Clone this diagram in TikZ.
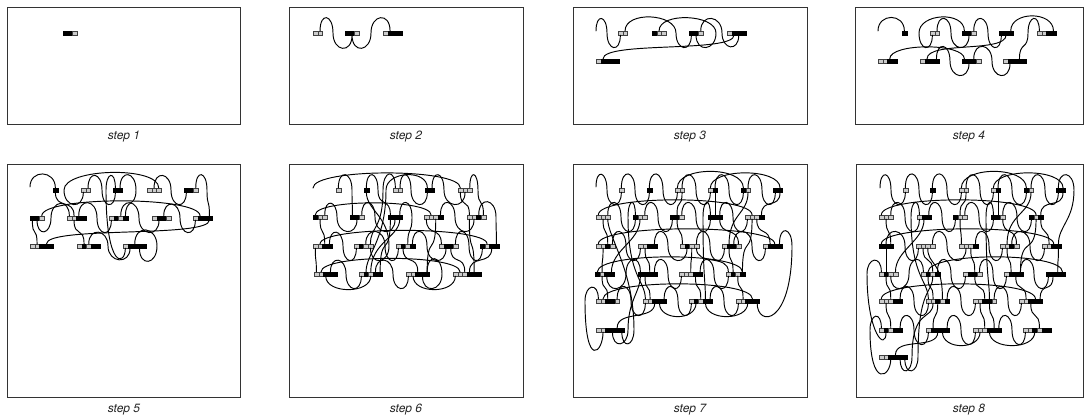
\documentclass[tikz,border=0pt]{standalone}
\usepackage{fontspec}
\setmainfont{TeX Gyre Heros}
\usetikzlibrary{positioning}
\newcommand\bits[4]{\foreach \b [count=\i] in {#4} {\node[cell\b] (#1-\i) at ({#2+4.7*\i-2.35},#3) {};}}
\newcommand\bz[3]{.. controls +(0,#1) and +(0,#2) .. (#3)}
\newcommand\hop[2]{\bz{#1}{#1}{#2}}
\begin{document}
\begin{tikzpicture}[x=1pt, y=-1pt,
    cell0/.style={draw=black!75, fill=black!20, line width=0.3pt, minimum width=4.7pt, minimum height=4.3pt, inner sep=0pt, outer sep=0pt},
    cell1/.style={cell0, fill=black, draw=black},
    wire/.style={line width=0.95pt, line cap=round},
    frame/.style={draw=black!80, line width=0.8pt},
    lab/.style={font=\fontsize{12}{14}\selectfont\itshape, text=black!85}
]
\useasboundingbox (0,0) rectangle (1085,417);
\draw[frame] (7,7) rectangle (240,124);
\draw[frame] (289,7) rectangle (523,124);
\draw[frame] (573,7) rectangle (807,124);
\draw[frame] (855,7) rectangle (1083,124);
\draw[frame] (7,164) rectangle (240,397);
\draw[frame] (289,164) rectangle (523,397);
\draw[frame] (573,164) rectangle (807,397);
\draw[frame] (856,164) rectangle (1083,397);
\node[lab] (l1) at (124,137) {step 1};
\node[lab] (l2) at (406,137) {step 2};
\node[lab] (l3) at (690,137) {step 3};
\node[lab] (l4) at (969,137) {step 4};
\node[lab] (l5) at (124,410) {step 5};
\node[lab] (l6) at (406,410) {step 6};
\node[lab] (l7) at (690,410) {step 7};
\node[lab] (l8) at (969,410) {step 8};

\bits{s1a}{63}{33}{1,1,0}

\bits{s2a}{313}{33}{0,0}
\bits{s2b}{345}{33}{1,1,0}
\bits{s2c}{383}{33}{0,1,1,1}
\draw[wire] (s2a-2.north) \hop{-19}{333,33} \hop{19}{s2b-2.south} \hop{19}{371,33} \hop{-19}{s2c-2.north};

\bits{s3a}{618}{33}{0,0}
\bits{s3b}{652}{33}{1,0,0}
\bits{s3c}{689}{33}{1,1,0}
\bits{s3d}{727}{33}{0,1,1,1}
\bits{s3e}{596}{61}{0,1,1,1,1}
\coordinate (f3) at (596,31);
\draw[wire] (f3) \hop{-18}{607,33} \hop{18}{s3a-1.south};
\draw[wire] (s3a-2.north) \hop{-20}{676,33} \hop{18}{s3c-1.south};
\draw[wire] (s3b-2.north) \hop{-19}{716,33} \hop{18}{s3c-2.south};
\draw[wire] (s3c-3.north) \hop{-18}{722,33} \hop{17}{s3d-3.south};
\draw[wire] (s3e-2.north) \bz{-18}{18}{s3d-2.south};

\bits{s4a}{902}{33}{1}
\bits{s4b}{930}{33}{0,0}
\bits{s4c}{962}{33}{1,1,0}
\bits{s4d}{999}{33}{1,1,1}
\bits{s4e}{1037}{33}{0,0,1,1}
\bits{s4f}{878}{61}{0,0,1,1}
\bits{s4g}{920}{61}{0,1,1,1}
\bits{s4h}{962}{61}{1,1,1,0}
\bits{s4i}{1003}{61}{0,1,1,1,1}
\coordinate (f4) at (878,31);
\draw[wire] (f4) \hop{-18}{s4a-1.north};
\draw[wire] (s4c-1.north) \hop{-20}{919,33} \hop{18}{s4b-1.south};
\draw[wire] (s4b-2.north) \hop{-18}{951,33} \hop{18}{s4c-2.south};
\draw[wire] (s4c-3.north) \hop{-18}{988,33} \hop{18}{s4d-1.south};
\draw[wire] (s4d-3.north) \hop{-20}{s4e-4.north};
\draw[wire] (s4e-1.north) \hop{-18}{1028,33} \bz{18}{-18}{s4i-4.north};
\draw[wire] (s4g-2.north) \bz{-18}{18}{s4d-2.south};
\draw[wire] (s4f-3.north) \hop{-16}{s4h-1.north};
\draw[wire] (s4g-4.north) \hop{-18}{950,61} \hop{18}{s4h-2.south};
\draw[wire] (s4h-3.north) \hop{-18}{992,61} \hop{18}{s4i-2.south};

\bits{s5a}{53}{190}{1}
\bits{s5b}{81}{190}{0,0}
\bits{s5c}{113}{190}{1,1}
\bits{s5d}{147}{190}{0,0,0}
\bits{s5e}{184}{190}{1,1,0}
\bits{s5f}{30}{218}{1,1,0}
\bits{s5g}{67}{218}{0,0,1,1}
\bits{s5h}{109}{218}{0,1,0,1}
\bits{s5i}{152}{218}{0,1,1,0}
\bits{s5j}{193}{218}{0,1,1,1}
\bits{s5k}{30}{246}{0,0,1,1,1}
\bits{s5l}{77}{246}{0,1,0,1,1}
\bits{s5m}{123}{246}{0,1,1,1,1}
\coordinate (f5) at (30,187);
\draw[wire] (f5) \hop{-18}{s5a-1.north};
\draw[wire] (s5a-1.south) \bz{18}{-18}{s5g-2.north};
\draw[wire] (s5d-3.north) \hop{-22}{64,190} \hop{18}{s5b-1.south};
\draw[wire] (s5b-2.north) \hop{-18}{102,190} \hop{18}{s5c-1.south};
\draw[wire] (s5c-2.north) \hop{-19}{136,190} \bz{18}{-18}{s5h-4.north};
\draw[wire] (s5d-2.north) \hop{-18}{171,190} \hop{18}{s5e-1.south};
\draw[wire] (s5e-3.north) \hop{-19}{207,190} \bz{18}{-18}{s5j-4.north};
\draw[wire] (s5f-3.north) \hop{-20}{s5j-2.north};
\draw[wire] (s5f-2.south) \hop{17}{51,218} \hop{-18}{s5g-1.north};
\draw[wire] (s5g-3.north) \hop{-19}{97,218} \hop{18}{s5h-1.south};
\draw[wire] (s5h-3.north) \hop{-19}{139,218} \hop{18}{s5i-2.south};
\draw[wire] (s5i-3.north) \hop{-17}{180,218} \hop{18}{s5j-1.south};
\draw[wire] (s5f-1.south) \bz{18}{-18}{s5k-2.north};
\draw[wire] (s5g-2.south) \bz{18}{-18}{s5l-2.north};
\draw[wire] (s5k-4.north) \bz{-18}{18}{s5j-4.south};
\draw[wire] (s5l-3.north) \hop{-17}{108,246} \hop{17}{s5m-2.south};
\draw[wire] (s5m-3.north) \hop{-20}{157,246} \hop{19}{s5m-4.south};
\draw[wire] (s5c-1.north) \hop{-18}{106,190} \bz{80}{18}{s5m-1.south};

\bits{s6a}{336}{190}{0}
\bits{s6b}{364}{190}{1}
\bits{s6c}{393}{190}{0,0}
\bits{s6d}{425}{190}{1,1}
\bits{s6e}{458}{190}{0,0,0}
\bits{s6f}{313}{217}{1,0,0}
\bits{s6g}{350}{217}{1,1,0}
\bits{s6h}{388}{217}{1,1,1}
\bits{s6i}{424}{217}{0,0,0,1}
\bits{s6j}{467}{217}{0,0,1,0}
\bits{s6k}{313}{246}{0,0,1,1}
\bits{s6l}{354}{246}{0,1,0,0}
\bits{s6m}{396}{246}{0,1,0,1}
\bits{s6n}{439}{246}{0,1,1,0}
\bits{s6o}{480}{246}{1,0,1,1}
\bits{s6p}{314}{274}{0,0,1,1,1}
\bits{s6q}{359}{274}{0,1,0,1,1}
\bits{s6r}{406}{274}{0,0,1,1,1}
\bits{s6s}{453}{274}{0,0,0,1,1,1}
\coordinate (f6) at (313,188);
\draw[wire] (f6) \hop{-20}{s6e-1.north};
\draw[wire] (s6a-1.north) \hop{-19}{352,190} \bz{18}{-18}{s6g-1.north};
\draw[wire] (s6b-1.north) \hop{-19}{378,190} \bz{18}{-18}{s6h-1.north};
\draw[wire] (s6c-1.north) \hop{-20}{383,190} \bz{40}{-18}{s6l-4.north};
\draw[wire] (s6c-2.north) \hop{-19}{411,190} \hop{18}{s6d-1.south};
\draw[wire] (s6d-2.north) \hop{-19}{444,190} \hop{18}{s6e-2.south};
\draw[wire] (s6e-3.north) \hop{-19}{478,190} \bz{18}{-18}{s6j-4.north};
\draw[wire] (s6d-1.north) \hop{-19}{386,190} \bz{50}{-18}{s6q-2.north};
\draw[wire] (s6e-1.south) \bz{18}{-18}{s6j-1.north};
\draw[wire] (s6f-1.north) \hop{-16}{s6i-2.north};
\draw[wire] (s6f-3.north) \hop{-17}{337,217} \hop{18}{s6g-2.south};
\draw[wire] (s6g-3.north) \hop{-18}{375,217} \hop{18}{s6h-2.south};
\draw[wire] (s6h-3.north) \hop{-18}{412,217} \bz{18}{-18}{s6m-3.north};
\draw[wire] (s6i-4.north) \hop{-18}{455,217} \hop{18}{s6j-2.south};
\draw[wire] (s6j-3.north) \hop{-19}{496,217} \bz{18}{-18}{s6o-4.north};
\draw[wire] (s6f-2.south) \bz{18}{-18}{s6k-3.north};
\draw[wire] (s6i-1.south) \bz{18}{-18}{s6n-1.north};
\draw[wire] (s6h-1.south) \bz{40}{-40}{s6q-5.north};
\draw[wire] (s6i-3.south) \bz{40}{-40}{s6r-5.north};
\draw[wire] (s6j-1.south) \bz{40}{-40}{s6s-5.north};
\draw[wire] (s6k-2.north) \hop{-18}{s6o-2.north};
\draw[wire] (s6k-4.north) \hop{-17}{343,246} \hop{18}{s6l-1.south};
\draw[wire] (s6l-3.north) \hop{-18}{385,246} \hop{18}{s6m-1.south};
\draw[wire] (s6m-4.north) \hop{-18}{427,246} \hop{18}{s6n-2.south};
\draw[wire] (s6n-4.north) \hop{-18}{469,246} \hop{18}{s6o-1.south};
\draw[wire] (s6l-4.south) \hop{18}{389,246} \bz{-30}{18}{s6b-1.south};
\draw[wire] (s6k-1.south) \bz{18}{-18}{s6p-1.north};
\draw[wire] (s6m-2.south) \bz{18}{-18}{s6r-3.north};
\draw[wire] (s6n-3.south) \bz{18}{-18}{s6s-3.north};
\draw[wire] (s6p-2.north) \hop{-18}{s6s-2.north};
\draw[wire] (s6p-4.north) \hop{-17}{346,274} \hop{18}{s6q-1.south};
\draw[wire] (s6q-4.north) \hop{-17}{393,274} \hop{18}{s6r-1.south};
\draw[wire] (s6r-5.north) \hop{-19}{442,274} \hop{18}{s6r-4.south};
\draw[wire] (s6q-3.north) \bz{-30}{18}{s6h-3.south};
\draw[wire] (s6s-4.north) \bz{-18}{18}{s6o-3.south};
\draw[wire] (s6p-3.south) \hop{18}{s6q-3.south};
\draw[wire] (s6r-2.south) \hop{18}{s6s-1.south};

\bits{s7a}{619}{190}{0}
\bits{s7b}{647}{190}{1}
\bits{s7c}{675}{190}{0,0}
\bits{s7d}{708}{190}{0,1}
\bits{s7e}{741}{190}{1,0}
\bits{s7f}{773}{190}{1,1}
\bits{s7g}{596}{217}{0,0,0}
\bits{s7h}{633}{217}{1,0,0}
\bits{s7i}{670}{217}{1,1,0}
\bits{s7j}{708}{217}{1,1,1}
\bits{s7k}{745}{217}{0,0,0,1}
\bits{s7l}{596}{246}{0,0,1,0}
\bits{s7m}{638}{246}{0,0,1,1}
\bits{s7n}{680}{246}{0,1,0,0}
\bits{s7o}{722}{246}{0,1,1,0}
\bits{s7p}{763}{246}{0,1,1,1}
\bits{s7q}{595}{274}{1,0,1,1}
\bits{s7r}{638}{274}{1,1,1,1}
\bits{s7s}{679}{274}{0,0,0,1,1}
\bits{s7t}{726}{274}{0,1,0,1}
\bits{s7u}{596}{301}{0,0,1,1,0}
\bits{s7v}{643}{301}{0,0,1,1,1}
\bits{s7w}{689}{301}{0,1,0,1,1}
\bits{s7x}{736}{301}{0,0,1,1,1}
\bits{s7y}{596}{330}{0,0,1,1,1,1}
\coordinate (f7) at (596,187);
\draw[wire] (f7) \hop{-19}{607,190} \hop{18}{s7a-1.south};
\draw[wire] (s7a-1.north) \hop{-20}{635,190} \hop{18}{s7b-1.south};
\draw[wire] (s7b-1.north) \hop{-20}{663,190} \hop{18}{s7c-1.south};
\draw[wire] (s7c-2.north) \hop{-19}{696,190} \hop{18}{s7d-1.south};
\draw[wire] (s7d-2.north) \hop{-19}{729,190} \hop{18}{s7e-1.south};
\draw[wire] (s7e-2.north) \hop{-19}{762,190} \hop{18}{s7f-1.south};
\draw[wire] (s7c-1.north) \hop{-22}{s7e-1.north};
\draw[wire] (s7d-1.north) \hop{-20}{s7f-2.north};
\draw[wire] (s7f-2.south) \bz{18}{-18}{s7k-4.north};
\draw[wire] (s7c-2.south) \bz{18}{-18}{s7i-2.north};
\draw[wire] (s7d-2.south) \bz{18}{-18}{s7j-2.north};
\draw[wire] (s7e-2.south) \bz{22}{-30}{s7o-2.north};
\draw[wire] (s7g-3.north) \hop{-18}{621,217} \hop{18}{s7h-1.south};
\draw[wire] (s7h-3.north) \hop{-18}{658,217} \hop{18}{s7i-1.south};
\draw[wire] (s7i-3.north) \hop{-18}{696,217} \hop{18}{s7j-1.south};
\draw[wire] (s7j-3.north) \hop{-18}{733,217} \hop{18}{s7k-1.south};
\draw[wire] (s7g-1.north) \hop{-20}{s7k-2.north};
\draw[wire] (s7h-1.north) \hop{-18}{628,217} \bz{60}{-18}{s7v-1.north};
\draw[wire] (s7j-1.north) \hop{-18}{703,217} \bz{60}{-18}{s7w-4.north};
\draw[wire] (s7k-2.south) \bz{40}{-40}{s7t-4.north};
\draw[wire] (s7g-2.south) \bz{18}{-18}{s7l-3.north};
\draw[wire] (s7h-2.south) \bz{22}{-22}{s7q-4.north};
\draw[wire] (s7i-2.south) \bz{18}{-18}{s7n-1.north};
\draw[wire] (s7j-3.south) \bz{18}{-18}{s7o-4.north};
\draw[wire] (s7k-3.south) \bz{18}{-18}{s7p-2.north};
\draw[wire] (s7l-4.north) \hop{-18}{626,246} \hop{18}{s7m-1.south};
\draw[wire] (s7m-4.north) \hop{-18}{668,246} \hop{18}{s7n-2.south};
\draw[wire] (s7n-4.north) \hop{-18}{710,246} \hop{18}{s7o-1.south};
\draw[wire] (s7o-3.north) \hop{-18}{752,246} \hop{18}{s7p-1.south};
\draw[wire] (s7l-1.north) \hop{-20}{s7p-3.north};
\draw[wire] (s7p-4.north) \hop{-19}{792,246} \bz{80}{24}{s7x-5.south};
\draw[wire] (s7l-2.south) \bz{18}{-18}{s7q-2.north};
\draw[wire] (s7m-2.south) \bz{18}{-18}{s7r-3.north};
\draw[wire] (s7n-3.south) \bz{18}{-18}{s7s-3.north};
\draw[wire] (s7n-4.south) \bz{18}{-18}{s7t-1.north};
\draw[wire] (s7o-2.south) \bz{18}{-18}{s7t-2.north};
\draw[wire] (s7r-1.north) \hop{-18}{626,274} \hop{18}{s7q-3.south};
\draw[wire] (s7r-4.north) \hop{-18}{668,274} \hop{18}{s7s-1.south};
\draw[wire] (s7s-5.north) \hop{-18}{714,274} \hop{18}{s7t-1.south};
\draw[wire] (s7q-1.north) \hop{-20}{s7t-4.north};
\draw[wire] (s7q-2.south) \bz{18}{-18}{s7u-3.north};
\draw[wire] (s7r-2.south) \bz{18}{-18}{s7v-2.north};
\draw[wire] (s7s-4.south) \bz{18}{-18}{s7w-3.north};
\draw[wire] (s7t-3.south) \bz{18}{-18}{s7x-2.north};
\draw[wire] (s7u-5.north) \hop{-18}{631,301} \hop{18}{s7v-1.south};
\draw[wire] (s7v-5.north) \hop{-18}{678,301} \hop{18}{s7w-1.south};
\draw[wire] (s7w-5.north) \hop{-18}{724,301} \hop{18}{s7x-1.south};
\draw[wire] (s7v-4.south) \hop{18}{s7w-2.south};
\draw[wire] (s7w-4.south) \hop{18}{s7x-3.south};
\draw[wire] (s7u-2.north) \hop{-20}{s7x-4.north};
\draw[wire] (s7u-1.north) \hop{-17}{585,301} \bz{70}{20}{s7y-2.south};
\draw[wire] (s7y-4.south) \hop{17}{628,330} \bz{-30}{16}{s7r-1.south};
\draw[wire] (s7y-6.south) \hop{17}{634,330} \bz{-60}{18}{s7g-3.south};
\draw[wire] (s7y-5.north) \bz{-18}{18}{s7v-3.south};

\bits{s8a}{903}{190}{0}
\bits{s8b}{930}{190}{1}
\bits{s8c}{959}{190}{0,0}
\bits{s8d}{991}{190}{0,1}
\bits{s8e}{1024}{190}{1,0}
\bits{s8f}{1056}{190}{1,1}
\bits{s8g}{879}{217}{0,0,0}
\bits{s8h}{917}{217}{0,1,1}
\bits{s8i}{953}{217}{1,0,0}
\bits{s8j}{991}{217}{1,1,0}
\bits{s8k}{1029}{217}{1,0,1}
\bits{s8l}{879}{246}{1,1,1}
\bits{s8m}{916}{246}{0,0,0,0}
\bits{s8n}{959}{246}{0,0,0,1}
\bits{s8o}{1000}{246}{0,0,1,0}
\bits{s8p}{1042}{246}{0,0,1,1}
\bits{s8q}{879}{274}{0,1,0,0}
\bits{s8r}{921}{274}{0,1,0,1}
\bits{s8s}{963}{274}{0,1,1,0}
\bits{s8t}{1004}{274}{0,1,1,1}
\bits{s8u}{1046}{274}{1,1,1,1}
\bits{s8v}{879}{301}{0,0,0,1,1}
\bits{s8w}{926}{301}{0,0,1,0,1}
\bits{s8x}{973}{301}{0,0,1,1,0}
\bits{s8y}{1019}{301}{0,0,1,1,1}
\bits{s8z}{879}{330}{0,1,0,1,1}
\bits{s8za}{926}{330}{0,1,1,1,1}
\bits{s8zb}{973}{330}{0,0,0,1,1,1}
\bits{s8zc}{1023}{330}{0,0,1,0,1,1}
\bits{s8zd}{879}{357}{0,0,1,1,1,1}
\coordinate (f8) at (880,188);
\draw[wire] (f8) \hop{-19}{891,190} \hop{18}{s8a-1.south};
\draw[wire] (s8a-1.north) \hop{-20}{919,190} \hop{18}{s8b-1.south};
\draw[wire] (s8b-1.north) \hop{-20}{947,190} \hop{18}{s8c-1.south};
\draw[wire] (s8c-2.north) \hop{-19}{980,190} \hop{18}{s8d-1.south};
\draw[wire] (s8d-2.north) \hop{-19}{1012,190} \hop{18}{s8e-1.south};
\draw[wire] (s8e-2.north) \hop{-19}{1045,190} \hop{18}{s8f-1.south};
\draw[wire] (s8c-1.north) \hop{-22}{s8e-1.north};
\draw[wire] (s8d-1.north) \hop{-20}{s8f-2.north};
\draw[wire] (s8f-1.north) \hop{-19}{1074,190} \bz{30}{-18}{s8p-4.north};
\draw[wire] (s8c-2.south) \bz{18}{-18}{s8i-2.north};
\draw[wire] (s8d-2.south) \bz{18}{-18}{s8j-2.north};
\draw[wire] (s8e-2.south) \bz{22}{-30}{s8o-2.north};
\draw[wire] (s8f-2.south) \bz{18}{-18}{s8k-3.north};
\draw[wire] (s8g-3.north) \hop{-18}{905,217} \hop{18}{s8h-1.south};
\draw[wire] (s8h-3.north) \hop{-18}{942,217} \hop{18}{s8i-1.south};
\draw[wire] (s8i-3.north) \hop{-18}{979,217} \hop{18}{s8j-1.south};
\draw[wire] (s8j-3.north) \hop{-18}{1017,217} \hop{18}{s8k-1.south};
\draw[wire] (s8g-1.north) \hop{-20}{s8k-2.north};
\draw[wire] (s8h-1.north) \hop{-18}{911,217} \bz{60}{-18}{s8w-1.north};
\draw[wire] (s8j-1.north) \hop{-18}{986,217} \bz{60}{-18}{s8x-4.north};
\draw[wire] (s8k-2.south) \bz{40}{-40}{s8t-4.north};
\draw[wire] (s8g-2.south) \bz{18}{-18}{s8l-3.north};
\draw[wire] (s8h-2.south) \bz{22}{-22}{s8q-4.north};
\draw[wire] (s8i-2.south) \bz{18}{-18}{s8n-1.north};
\draw[wire] (s8j-3.south) \bz{18}{-18}{s8o-4.north};
\draw[wire] (s8k-3.south) \bz{18}{-18}{s8p-2.north};
\draw[wire] (s8l-2.north) \hop{-18}{905,246} \hop{18}{s8m-1.south};
\draw[wire] (s8m-4.north) \hop{-18}{947,246} \hop{18}{s8n-2.south};
\draw[wire] (s8n-4.north) \hop{-18}{989,246} \hop{18}{s8o-1.south};
\draw[wire] (s8o-3.north) \hop{-18}{1030,246} \hop{18}{s8p-1.south};
\draw[wire] (s8l-1.north) \hop{-20}{s8p-3.north};
\draw[wire] (s8l-2.south) \bz{18}{-18}{s8q-2.north};
\draw[wire] (s8m-2.south) \bz{18}{-18}{s8r-3.north};
\draw[wire] (s8n-3.south) \bz{18}{-18}{s8s-3.north};
\draw[wire] (s8o-2.south) \bz{18}{-18}{s8t-2.north};
\draw[wire] (s8p-4.south) \bz{18}{-18}{s8u-3.north};
\draw[wire] (s8r-1.north) \hop{-18}{909,274} \hop{18}{s8q-3.south};
\draw[wire] (s8r-4.north) \hop{-18}{951,274} \hop{18}{s8s-1.south};
\draw[wire] (s8s-4.north) \hop{-18}{993,274} \hop{18}{s8t-1.south};
\draw[wire] (s8t-4.north) \hop{-18}{1034,274} \hop{18}{s8u-1.south};
\draw[wire] (s8r-2.north) \hop{-20}{s8u-4.north};
\draw[wire] (s8q-1.north) \hop{-17}{867,274} \bz{60}{20}{s8z-2.south};
\draw[wire] (s8q-2.south) \bz{18}{-18}{s8v-3.north};
\draw[wire] (s8r-2.south) \bz{18}{-18}{s8w-2.north};
\draw[wire] (s8s-3.south) \bz{18}{-18}{s8x-3.north};
\draw[wire] (s8t-3.south) \bz{18}{-18}{s8y-2.north};
\draw[wire] (s8u-2.south) \bz{18}{-18}{s8y-5.north};
\draw[wire] (s8v-5.north) \hop{-18}{914,301} \hop{18}{s8w-1.south};
\draw[wire] (s8w-5.north) \hop{-18}{961,301} \hop{18}{s8x-1.south};
\draw[wire] (s8x-5.north) \hop{-18}{1008,301} \hop{18}{s8y-1.south};
\draw[wire] (s8v-1.north) \hop{-20}{s8y-4.north};
\draw[wire] (s8w-4.north) \bz{-40}{18}{s8m-3.south};
\draw[wire] (s8v-2.south) \bz{18}{-18}{s8z-3.north};
\draw[wire] (s8w-3.south) \bz{18}{-18}{s8za-2.north};
\draw[wire] (s8x-2.south) \bz{18}{-18}{s8zb-3.north};
\draw[wire] (s8x-4.south) \bz{18}{-18}{s8zb-5.north};
\draw[wire] (s8y-3.south) \bz{18}{-18}{s8zc-4.north};
\draw[wire] (s8z-5.north) \hop{-18}{914,330} \hop{18}{s8za-1.south};
\draw[wire] (s8za-5.north) \hop{-18}{961,330} \hop{18}{s8zb-1.south};
\draw[wire] (s8zb-6.north) \hop{-18}{1012,330} \hop{18}{s8zc-1.south};
\draw[wire] (s8za-4.south) \hop{18}{s8zb-2.south};
\draw[wire] (s8zb-4.south) \hop{18}{s8zc-3.south};
\draw[wire] (s8z-1.north) \hop{-17}{870,330} \bz{60}{18}{s8zd-3.south};
\draw[wire] (s8zd-5.south) \hop{17}{912,357} \bz{-50}{18}{s8w-2.south};
\draw[wire] (s8zd-6.south) \hop{17}{918,357} \bz{-70}{18}{s8r-3.south};
\draw[wire] (s8zd-4.north) \bz{-18}{18}{s8za-3.south};
\end{tikzpicture}
\end{document}
